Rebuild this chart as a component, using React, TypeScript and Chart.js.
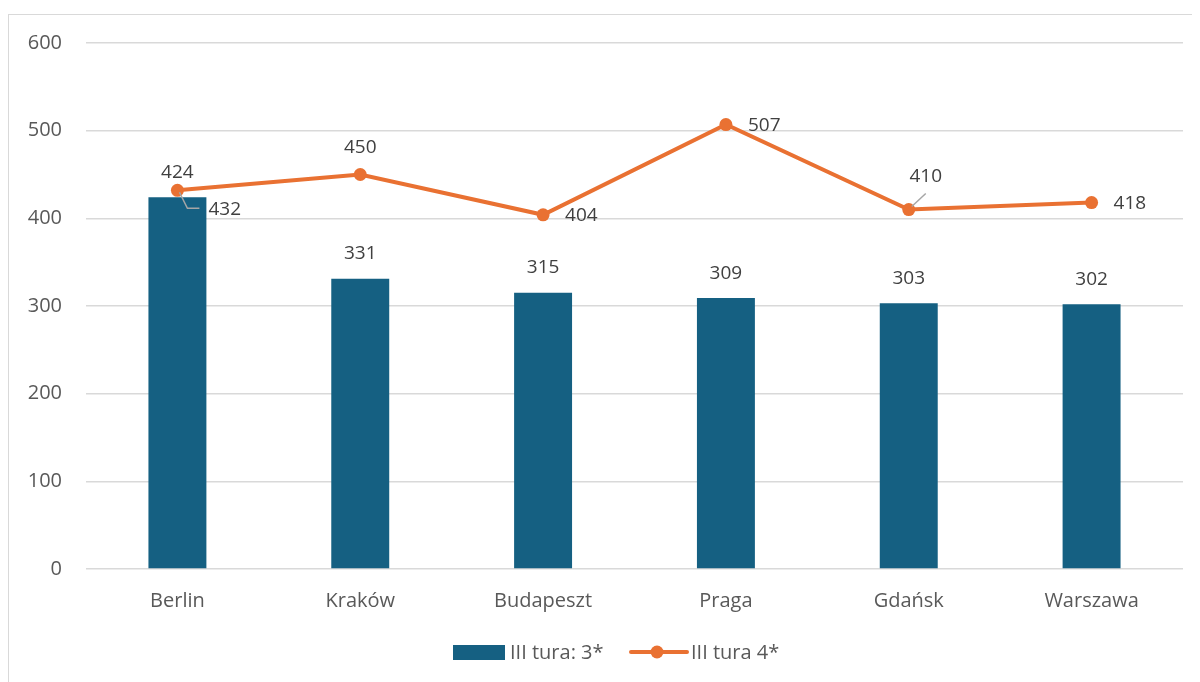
import React, { useEffect, useRef } from "react";
import { Chart, registerables } from "chart.js";

Chart.register(...registerables);

const categories = ["Berlin", "Kraków", "Budapeszt", "Praga", "Gdańsk", "Warszawa"];
const bar3Values = [424, 331, 315, 309, 303, 302];
const line4Values = [432, 450, 404, 507, 410, 418];
const seriesNames = ["III tura: 3*", "III tura 4*"];
const yTicks = [0, 100, 200, 300, 400, 500, 600];

// label placement for line series labels
const linePlacement = ["belowRightLeader", "above", "right", "right", "aboveLeader", "right"];

const BAR_COLOR = "#156082";
const LINE_COLOR = "#E97132";
const TEXT_COLOR = "#595959";
const LABEL_COLOR = "#404040";
const GRID_COLOR = "#d9d9d9";
const FONT = "'Open Sans', 'Liberation Sans', sans-serif";

const labelPlugin = {
  id: "valueLabels",
  afterDatasetsDraw(chart: any) {
    const ctx = chart.ctx;
    ctx.save();
    ctx.font = `19px ${FONT}`;
    ctx.fillStyle = LABEL_COLOR;
    ctx.textBaseline = "middle";
    const barMeta = chart.getDatasetMeta(0);
    barMeta.data.forEach((el: any, i: number) => {
      ctx.textAlign = "center";
      ctx.fillText(String(bar3Values[i]), el.x, el.y - 25);
    });
    const lineMeta = chart.getDatasetMeta(1);
    lineMeta.data.forEach((el: any, i: number) => {
      const p = linePlacement[i];
      const txt = String(line4Values[i]);
      ctx.strokeStyle = "#a6a6a6";
      ctx.lineWidth = 1.5;
      if (p === "above") {
        ctx.textAlign = "center";
        ctx.fillText(txt, el.x, el.y - 27);
      } else if (p === "right") {
        ctx.textAlign = "left";
        ctx.fillText(txt, el.x + 22, el.y + 1);
      } else if (p === "belowRightLeader") {
        ctx.beginPath();
        ctx.moveTo(el.x + 2, el.y + 2);
        ctx.lineTo(el.x + 10, el.y + 18);
        ctx.lineTo(el.x + 22, el.y + 18);
        ctx.stroke();
        ctx.textAlign = "left";
        ctx.fillText(txt, el.x + 31, el.y + 19);
      } else if (p === "aboveLeader") {
        ctx.beginPath();
        ctx.moveTo(el.x + 3, el.y - 3);
        ctx.lineTo(el.x + 17, el.y - 16);
        ctx.stroke();
        ctx.textAlign = "center";
        ctx.fillText(txt, el.x + 17, el.y - 33);
      }
    });
    ctx.restore();
  },
};

const legendPlugin = {
  id: "customLegend",
  afterDraw(chart: any) {
    const ctx = chart.ctx;
    ctx.save();
    const cy = 637;
    ctx.font = `20px ${FONT}`;
    ctx.textBaseline = "middle";
    ctx.textAlign = "left";
    // bar entry
    ctx.fillStyle = BAR_COLOR;
    ctx.fillRect(444, cy - 7, 52, 15);
    ctx.fillStyle = TEXT_COLOR;
    ctx.fillText(seriesNames[0], 501, cy + 1);
    // line entry
    ctx.strokeStyle = LINE_COLOR;
    ctx.lineWidth = 4;
    ctx.lineCap = "round";
    ctx.beginPath();
    ctx.moveTo(622, cy);
    ctx.lineTo(678, cy);
    ctx.stroke();
    ctx.fillStyle = LINE_COLOR;
    ctx.beginPath();
    ctx.arc(648, cy, 6.5, 0, Math.PI * 2);
    ctx.fill();
    ctx.fillStyle = TEXT_COLOR;
    ctx.fillText(seriesNames[1], 682, cy + 1);
    ctx.restore();
  },
};

export default function App() {
  const ref = useRef<HTMLCanvasElement>(null);
  useEffect(() => {
    document.body.style.overflow = "hidden";
    const chart = new Chart(ref.current as HTMLCanvasElement, {
      type: "bar",
      data: {
        labels: categories,
        datasets: [
          {
            type: "bar",
            label: seriesNames[0],
            data: bar3Values,
            backgroundColor: BAR_COLOR,
            barPercentage: 0.317,
            categoryPercentage: 1,
            order: 1,
          } as any,
          {
            type: "line",
            label: seriesNames[1],
            data: line4Values,
            borderColor: LINE_COLOR,
            backgroundColor: LINE_COLOR,
            borderWidth: 4,
            pointRadius: 6.5,
            pointHoverRadius: 6.5,
            pointBorderWidth: 0,
            tension: 0,
            order: 0,
          } as any,
        ],
      },
      options: {
        responsive: false,
        animation: false,
        layout: { padding: { left: 0, right: 16, top: 28, bottom: 54 } },
        plugins: { legend: { display: false }, tooltip: { enabled: false } },
        scales: {
          x: {
            grid: { display: false },
            border: { display: false },
            ticks: { color: TEXT_COLOR, font: { family: FONT, size: 20 }, padding: 12, maxRotation: 0 },
            afterFit: (s: any) => {
              s.height = 58;
              s.paddingLeft = 0;
              s.paddingRight = 0;
            },
          },
          y: {
            min: 0,
            max: 600,
            afterBuildTicks: (s: any) => { s.ticks = yTicks.map((v) => ({ value: v })); },
            grid: { color: GRID_COLOR, lineWidth: 1.5, drawTicks: false },
            border: { display: false },
            ticks: { color: TEXT_COLOR, font: { family: FONT, size: 20 }, padding: 24 },
            afterFit: (s: any) => {
              s.width = 77;
              s.paddingTop = 0;
              s.paddingBottom = 0;
            },
          },
        },
      },
      plugins: [labelPlugin, legendPlugin],
    });
    return () => chart.destroy();
  }, []);
  return (
    <div
      style={{
        marginTop: 6,
        width: 1192,
        height: 668,
        borderLeft: "1.5px solid #d9d9d9",
        borderTop: "1.5px solid #d9d9d9",
        boxSizing: "border-box",
      }}
    >
      <canvas ref={ref} width={1190} height={666} style={{ display: "block" }} />
    </div>
  );
}
